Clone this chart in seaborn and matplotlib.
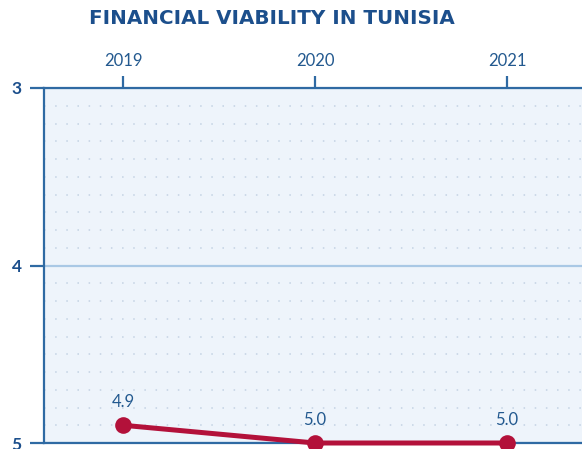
import matplotlib
matplotlib.use("Agg")
import matplotlib.pyplot as plt
from matplotlib.ticker import MultipleLocator
import seaborn as sns
import pandas as pd

# Financial viability scores for Tunisia (lower is better, axis inverted)
years = [2019, 2020, 2021]
scores = [4.9, 5.0, 5.0]
tick_years = ["2019", "2020", "2021"]
score_ticks = [3, 4, 5]

title = "FINANCIAL VIABILITY IN TUNISIA"

NAVY = "#1c4f8c"
SPINE = "#2f6aa3"
LABEL = "#23598f"
RED = "#b3113a"
PANEL = "#eef4fb"

sns.set_theme(style="white")
plt.rcParams["font.family"] = ["Lato", "DejaVu Sans"]

W, H = 582, 449
fig = plt.figure(figsize=(W / 100, H / 100), dpi=100)
fig.patch.set_facecolor("white")

# The panel runs past the right edge of the figure
left_px, top_px, right_px, bottom_px = 44, 88, 700, 443
ax = fig.add_axes([left_px / W, 1 - bottom_px / H,
                   (right_px - left_px) / W, (bottom_px - top_px) / H])

df = pd.DataFrame({"year": years, "score": scores})
sns.lineplot(data=df, x="year", y="score", ax=ax, color=RED, linewidth=3.6,
             marker="o", markersize=12, markeredgewidth=0, zorder=5,
             clip_on=False)

px_per_year = 192
x0 = years[0] - (123 - left_px) / px_per_year
ax.set_xlim(x0, x0 + (right_px - left_px) / px_per_year)
ax.set_ylim(5, 3)

ax.set_facecolor(PANEL)
ax.spines["right"].set_visible(False)
for side in ["left", "top", "bottom"]:
    ax.spines[side].set_color(SPINE)
    ax.spines[side].set_linewidth(1.6)

ax.xaxis.tick_top()
ax.set_xticks(years)
ax.set_xticklabels(tick_years)
ax.set_yticks(score_ticks)
ax.set_yticklabels([str(t) for t in score_ticks])
ax.tick_params(axis="x", which="major", top=True, bottom=False, direction="out",
               length=9, width=1.6, color=SPINE, pad=5, labelsize=12,
               labelcolor=LABEL)
ax.tick_params(axis="y", which="major", left=True, direction="out",
               length=10, width=1.6, color=SPINE, pad=6, labelsize=12.5,
               labelcolor=NAVY)
for lbl in ax.get_yticklabels():
    lbl.set_fontweight("bold")
ax.set_xlabel("")
ax.set_ylabel("")

# Dotted minor grid every 0.1 and a solid major line at each whole score
ax.yaxis.set_minor_locator(MultipleLocator(0.1))
ax.tick_params(axis="y", which="minor", length=0)
ax.grid(False)
ax.grid(True, axis="y", which="minor", color="#c3d2e3", linewidth=1.1,
        linestyle=(0, (1, 6.3)))
ax.grid(True, axis="y", which="major", color="#a9c8e5", linewidth=1.6,
        linestyle="-")
ax.set_axisbelow(True)

for x, y in zip(years, scores):
    ax.annotate(f"{y:.1f}", (x, y), xytext=(0, 11), textcoords="offset points",
                ha="center", va="bottom", fontsize=12, color=LABEL)

fig.text(272 / W, 1 - 18 / H, title, ha="center", va="center",
         fontsize=14.3, fontweight="bold", color=NAVY,
         family=["DejaVu Sans"])

fig.savefig("out.png", dpi=100)
